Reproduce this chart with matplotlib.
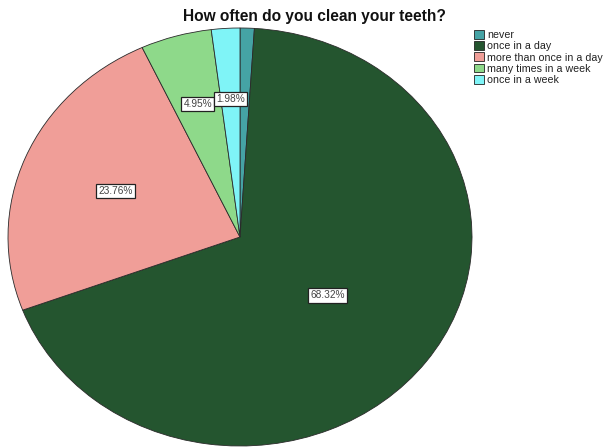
import numpy as np
import matplotlib
matplotlib.use("Agg")
import matplotlib.pyplot as plt

categories = ["never", "once in a day", "more than once in a day",
              "many times in a week", "once in a week"]
percent = [0.99, 68.32, 23.76, 4.95, 1.98]
colors = ["#45a3a5", "#24552f", "#f09e98", "#8ed98a", "#7ff4f7"]
show_label = [False, True, True, True, True]
label_radius = [0.6, 0.47, 0.58, 0.66, 0.66]

plt.rcParams['font.family'] = ['Liberation Sans', 'DejaVu Sans']

W, H = 603, 448
fig = plt.figure(figsize=(W / 100, H / 100), dpi=100)
fig.patch.set_facecolor('white')

cx, cy, rx, ry = 240, 237, 232, 209
ax = fig.add_axes([(cx - rx) / W, (H - cy - ry) / H, 2 * rx / W, 2 * ry / H])
wedges, _ = ax.pie(percent, colors=colors, startangle=90, counterclock=False,
                   radius=1.0, center=(0, 0),
                   wedgeprops=dict(edgecolor='#2a2a2a', linewidth=0.6))
ax.set_aspect('auto')
ax.set_xlim(-1, 1)
ax.set_ylim(-1, 1)
ax.axis('off')

for w, p, show, r in zip(wedges, percent, show_label, label_radius):
    if not show:
        continue
    ang = np.deg2rad((w.theta1 + w.theta2) / 2)
    ax.text(r * np.cos(ang), r * np.sin(ang), f"{p:.2f}%", ha='center', va='center',
            fontsize=7.3, color='#444444',
            bbox=dict(boxstyle='square,pad=0.2', fc='white', ec='#222222', lw=0.9))

fig.text(314 / W, 1 - 17 / H, "How often do you clean your teeth?", ha='center',
         va='center', fontsize=11.2, fontweight='bold', color='#111111')

from matplotlib.patches import Patch
handles = [Patch(facecolor=c, edgecolor='#222222', linewidth=0.6) for c in colors]
leg = fig.legend(handles, categories, loc='upper left',
                 bbox_to_anchor=(474 / W, 1 - 30 / H), frameon=False,
                 fontsize=7.7, handlelength=0.95, handleheight=0.9,
                 handletextpad=0.25, labelspacing=0.1, borderpad=0,
                 borderaxespad=0)
for t in leg.get_texts():
    t.set_color('#222222')

fig.savefig("out.png", dpi=100, facecolor='white')
